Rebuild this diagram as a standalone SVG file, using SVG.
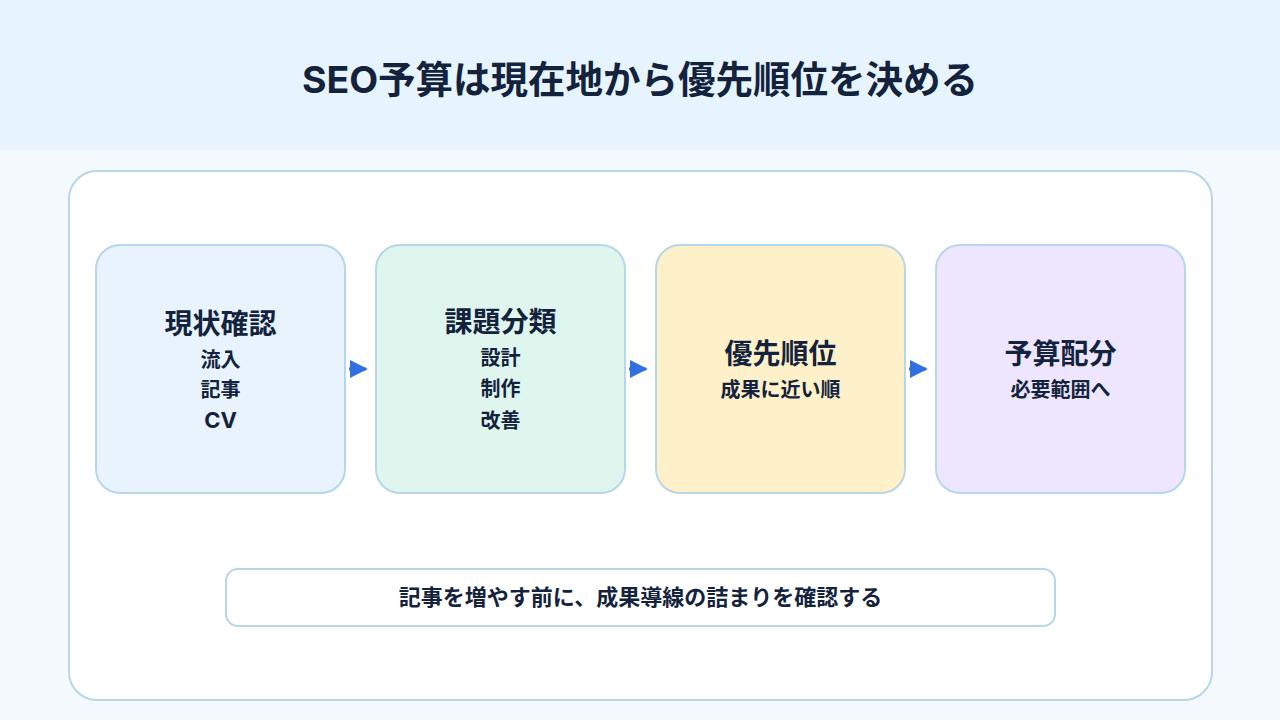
<svg xmlns="http://www.w3.org/2000/svg" width="1280" height="720" viewBox="0 0 1280 720">
<defs>
<style>
text{font-family:"Inter","Noto Sans CJK JP","Noto Sans",sans-serif;fill:#14233d;text-anchor:middle;font-weight:700}
.title{font-size:37.5px}
.h{font-size:28px}
.s{font-size:20px}
.box{stroke:#b7d6ea;stroke-width:2}
.conn{stroke:#2f6fe0;stroke-width:3;fill:none}
</style>
<marker id="arr" viewBox="0 0 10 10" refX="9" refY="5" markerWidth="6" markerHeight="6" markerUnits="strokeWidth" orient="auto">
<path d="M0,0 L10,5 L0,10 Z" fill="#2f6fe0"/>
</marker>
</defs>
<rect width="1280" height="720" fill="#f4f9fd"/>
<rect width="1280" height="150" fill="#e7f4fe"/>
<text class="title" x="640" y="93">SEO予算は現在地から優先順位を決める</text>
<rect x="69" y="171" width="1143" height="529" rx="28" fill="#ffffff" class="box"/>
<g id="connectors">
<line class="conn" x1="349" y1="369" x2="366" y2="369" marker-end="url(#arr)"/>
<line class="conn" x1="629" y1="369" x2="646" y2="369" marker-end="url(#arr)"/>
<line class="conn" x1="909" y1="369" x2="926" y2="369" marker-end="url(#arr)"/>
</g>
<g id="n1">
<rect x="96" y="245" width="249" height="248" rx="24" fill="#e8f3fe" class="box"/>
<text class="h" x="220.5" y="334">現状確認</text>
<text class="s" x="220.5" y="367">流入</text>
<text class="s" x="220.5" y="397">記事</text>
<text x="220.5" y="428" style="font-size:22px">CV</text>
</g>
<g id="n2">
<rect x="376" y="245" width="249" height="248" rx="24" fill="#dff6ee" class="box"/>
<text class="h" x="500.5" y="332">課題分類</text>
<text class="s" x="500.5" y="365">設計</text>
<text class="s" x="500.5" y="396">制作</text>
<text class="s" x="500.5" y="428">改善</text>
</g>
<g id="n3">
<rect x="656" y="245" width="249" height="248" rx="24" fill="#fef0c9" class="box"/>
<text class="h" x="780.5" y="364">優先順位</text>
<text class="s" x="780.5" y="397">成果に近い順</text>
</g>
<g id="n4">
<rect x="936" y="245" width="249" height="248" rx="24" fill="#ede6fe" class="box"/>
<text class="h" x="1060.5" y="364">予算配分</text>
<text class="s" x="1060.5" y="397">必要範囲へ</text>
</g>
<g id="note">
<rect x="226" y="569" width="829" height="57" rx="12" fill="#ffffff" class="box"/>
<text x="640.5" y="605" style="font-size:22px">記事を増やす前に、成果導線の詰まりを確認する</text>
</g>
</svg>
